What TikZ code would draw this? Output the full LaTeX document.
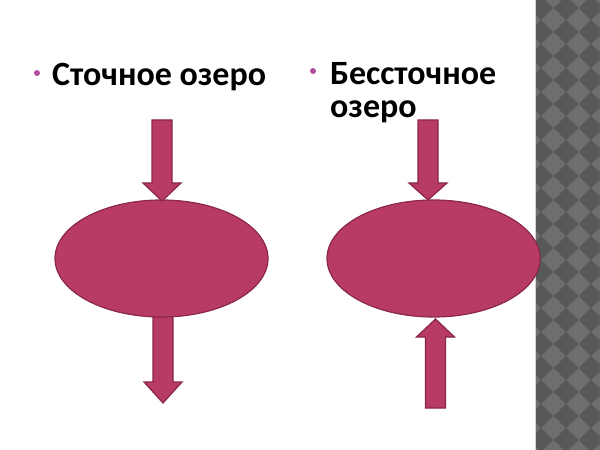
\documentclass[tikz,border=0pt]{standalone}
\usepackage{fontspec}
\setmainfont{Carlito}
\usetikzlibrary{shapes.geometric}

\definecolor{lakefill}{HTML}{B83B63}
\definecolor{lakeline}{HTML}{8A2646}
\definecolor{bulletcol}{HTML}{B24C9E}
\definecolor{checkdark}{HTML}{585858}
\definecolor{checklight}{HTML}{6E6E6E}

\tikzset{
    lake/.style={ellipse, draw=lakeline, fill=lakefill, line width=1.2bp,
        minimum width=213bp, minimum height=117bp, inner sep=0pt},
    flow/.style={draw=lakeline, fill=lakefill, line width=1.2bp, line join=miter},
    heading/.style={anchor=base west, inner sep=0pt,
        font=\fontsize{34bp}{36bp}\selectfont\bfseries},
    bullet/.style={circle, fill=bulletcol, inner sep=0pt, minimum size=6bp}
}

% block arrow: x, y of tail, y of head base, y of tip
\newcommand{\flowarrow}[4]{%
    \draw[flow] ({#1-10},#2) -- ({#1+10},#2) -- ({#1+10},#3) -- ({#1+19},#3)
        -- (#1,#4) -- ({#1-19},#3) -- ({#1-10},#3) -- cycle;
}

\begin{document}
\begin{tikzpicture}[x=1bp, y=-1bp]
            \useasboundingbox (0, 0) rectangle (600, 450);
            % side strip
            \fill[checklight] (535, 0) rectangle (600, 450);
            \begin{scope}
                \clip (535, 0) rectangle (600, 450);
                \foreach \i in {0,2,...,6} {
                    \foreach \j in {0,2,...,40} {
                        \fill[checkdark] ({541+\i*12.5}, {\j*12-4}) -- ++(12.5, 12)
                            -- ++(-12.5, 12) -- ++(-12.5, -12) -- cycle;
                    }
                }
            \end{scope}
            \draw[line width=1.5bp, gray!35] (535.5, 0) -- (535.5, 450);

            % titles
            \node[bullet] (bulletL) at (37, 73) {};
            \node[heading] (titleL) at (52, 86) {Сточное озеро};
            \node[bullet] (bulletR) at (313, 71) {};
            \node[heading] (titleR) at (330, 85) {Бессточное};
            \node[heading] (titleR2) at (330, 118) {озеро};

            % outflowing lake
            \flowarrow{163}{310}{382}{403}
            \node[lake] (lakeL) at (161.5, 258.5) {};
            \flowarrow{162}{120}{183}{201}

            % closed lake
            \node[lake] (lakeR) at (433.5, 258.5) {};
            \flowarrow{428}{120}{183}{200}
            \flowarrow{435.5}{408}{337}{319}
        \end{tikzpicture}
\end{document}
